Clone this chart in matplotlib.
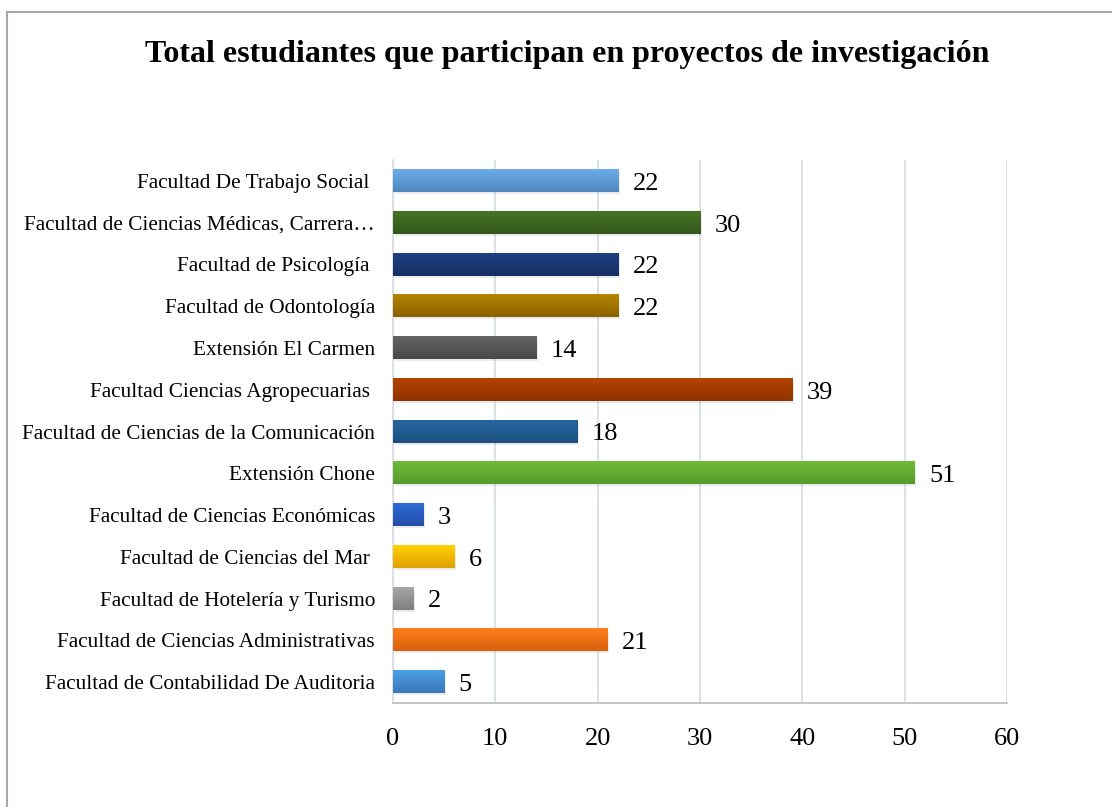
import numpy as np
import matplotlib.pyplot as plt
from matplotlib.colors import LinearSegmentedColormap, to_rgb
from matplotlib.patches import Rectangle

# data, bottom to top as drawn
facultades = [
    "Facultad de Contabilidad De Auditoria",
    "Facultad de Ciencias Administrativas",
    "Facultad de Hotelería y Turismo",
    "Facultad de Ciencias del Mar ",
    "Facultad de Ciencias Económicas",
    "Extensión Chone",
    "Facultad de Ciencias de la Comunicación",
    "Facultad Ciencias Agropecuarias ",
    "Extensión El Carmen",
    "Facultad de Odontología",
    "Facultad de Psicología ",
    "Facultad de Ciencias Médicas, Carrera…",
    "Facultad De Trabajo Social ",
]
estudiantes = [5, 21, 2, 6, 3, 51, 18, 39, 14, 22, 22, 30, 22]
# (top colour, bottom colour) of each bar's gradient
colores = [
    ("#4aa0e6", "#3a78b8"),
    ("#ff7e1a", "#d9600f"),
    ("#a6a6a6", "#808080"),
    ("#ffd200", "#e0a000"),
    ("#2f6ad8", "#234ea8"),
    ("#6dbb38", "#579a2c"),
    ("#2466a0", "#1d5080"),
    ("#b54400", "#8e3300"),
    ("#646464", "#484848"),
    ("#b58600", "#8a6200"),
    ("#1f3f80", "#162f62"),
    ("#467526", "#33561c"),
    ("#6cacea", "#4f86bc"),
]
xticks = [0, 10, 20, 30, 40, 50, 60]

plt.rcParams['font.family'] = ['Liberation Serif', 'DejaVu Serif']

fig = plt.figure(figsize=(11.12, 8.07), dpi=100)
ax = fig.add_axes([0.3534, 0.1289, 0.5522, 0.6728])

y = np.arange(len(facultades))
h = 0.53
bars = ax.barh(y, estudiantes, height=h, color="none", zorder=3)

grad = np.linspace(0, 1, 64).reshape(-1, 1)
for bar, (c_top, c_bot), v in zip(bars, colores, estudiantes):
    x0, y0 = bar.get_x(), bar.get_y()
    w, bh = bar.get_width(), bar.get_height()
    # soft shadow
    ax.add_patch(Rectangle((x0 + 0.15, y0 - 0.05), w, bh, color="#000000",
                           alpha=0.08, lw=0, zorder=2))
    cmap = LinearSegmentedColormap.from_list("g", [to_rgb(c_bot), to_rgb(c_top)])
    ax.imshow(grad, cmap=cmap, aspect="auto", origin="lower",
              extent=(x0, x0 + w, y0, y0 + bh), zorder=3)
    ax.text(v + 1.4, y0 + bh / 2 - 0.07, str(v), va="center", ha="left",
            fontsize=19, color="black", zorder=4)

ax.set_xlim(0, 60)
ax.set_ylim(-0.5, len(facultades) - 0.5)
ax.set_xticks(xticks)
ax.set_xticklabels([str(t) for t in xticks], fontsize=19)
ax.set_yticks(y)
ax.set_yticklabels(facultades, fontsize=15.3)
ax.tick_params(axis="both", length=0)
ax.tick_params(axis="x", pad=18)
ax.tick_params(axis="y", pad=13)

ax.grid(axis="x", color="#d9dee6", lw=1.3, zorder=0)
for side in ["top", "right"]:
    ax.spines[side].set_visible(False)
ax.spines["left"].set_color("#d9dee6")
ax.spines["left"].set_linewidth(1.3)
ax.spines["bottom"].set_color("#bfbfbf")
ax.spines["bottom"].set_linewidth(1.3)

fig.text(0.51, 0.932, "Total estudiantes que participan en proyectos de investigación",
         ha="center", va="center", fontsize=23, fontweight="bold")

# outer chart frame (cut off at right/bottom as in the source)
fig.add_artist(Rectangle((7 / 1112, -0.05), 1.1, 1 - 12 / 807 + 0.05,
                         transform=fig.transFigure, fill=False,
                         edgecolor="#a6a6a6", lw=1.5))

fig.savefig("out.png", dpi=100)
